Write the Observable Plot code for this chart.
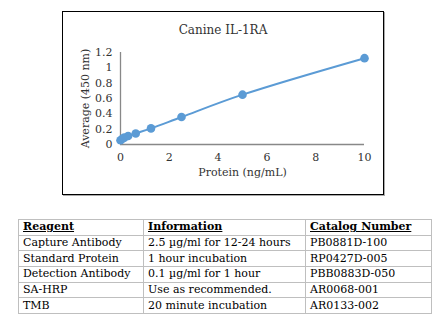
<!DOCTYPE html>
<html>
<head>
<meta charset="utf-8">
<script src="https://cdn.jsdelivr.net/npm/d3@7"></script>
<script src="https://cdn.jsdelivr.net/npm/@observablehq/plot@0.6"></script>
<style>
  html, body { margin: 0; padding: 0; background: #fff; }
  body { width: 446px; height: 326px; position: relative; overflow: hidden; font-family: "DejaVu Serif", serif; }
  #box { position: absolute; left: 62px; top: 11px; width: 320px; height: 182px; border: 1px solid #000; box-shadow: 1px 1px 0 #aaa; background: #fff; }
  #title { position: absolute; left: 0; width: 100%; top: 11px; text-align: center; font-size: 12px; color: #333; }
  #chart { position: absolute; left: 0; top: 0; }
  table { position: absolute; left: 18px; top: 219px; border-collapse: collapse; font-size: 11px; color: #000; }
  td { border: 1px solid #bfbfbf; height: 14.7px; padding: 0 4px; line-height: 14px; white-space: nowrap; }
  th { border: 1px solid #bfbfbf; height: 14.7px; padding: 0 4px; line-height: 14px; text-align: left; text-decoration: underline; font-weight: bold; white-space: nowrap; }
</style>
</head>
<body>
<div id="box"><div id="chart"></div><div id="title">Canine IL-1RA</div></div>
<table id="tbl"></table>
<script>
const protein = [0, 0.078, 0.156, 0.3125, 0.625, 1.25, 2.5, 5, 10];
const average = [0.055, 0.075, 0.09, 0.11, 0.144, 0.21, 0.358, 0.65, 1.126];
const yTicks = [0, 0.2, 0.4, 0.6, 0.8, 1, 1.2];
const xTicks = [0, 2, 4, 6, 8, 10];

const headers = ["Reagent", "Information", "Catalog Number"];
const reagents = ["Capture Antibody", "Standard Protein", "Detection Antibody", "SA-HRP", "TMB"];
const information = ["2.5 µg/ml for 12-24 hours", "1 hour incubation", "0.1 µg/ml for 1 hour", "Use as recommended.", "20 minute incubation"];
const catalog = ["PB0881D-100", "RP0427D-005", "PBB0883D-050", "AR0068-001", "AR0133-002"];

const data = protein.map((x, i) => ({x, y: average[i]}));

const chart = Plot.plot({
  width: 320,
  height: 182,
  marginLeft: 57,
  marginRight: 19,
  marginTop: 40,
  marginBottom: 50,
  style: {fontFamily: "DejaVu Serif, serif", fontSize: "11px", color: "#333", background: "transparent"},
  x: {domain: [0, 10], ticks: xTicks, tickFormat: d => String(d), label: null},
  y: {domain: [0, 1.2], ticks: yTicks, tickFormat: d => String(d), label: null},
  marks: [
    Plot.axisY({ticks: yTicks, tickSize: 0, tickPadding: 8, tickFormat: d => String(d), label: null}),
    Plot.axisX({ticks: xTicks, tickSize: 0, tickPadding: 9, tickFormat: d => String(d), label: null}),
    Plot.ruleX([0], {stroke: "#888", strokeWidth: 1.3}),
    Plot.ruleY([0], {stroke: "#888", strokeWidth: 1.3}),
    Plot.text(["Average (450 nm)"], {frameAnchor: "left", textAnchor: "middle", dx: -35, rotate: -90, fontSize: 11, fill: "#333"}),
    Plot.text(["Protein (ng/mL)"], {frameAnchor: "bottom", dy: 31, fontSize: 11, fill: "#333"}),
    Plot.line(data, {x: "x", y: "y", stroke: "#5b9bd5", strokeWidth: 2, curve: "catmull-rom"}),
    Plot.dot(data, {x: "x", y: "y", fill: "#5b9bd5", r: 4.3})
  ]
});
document.getElementById("chart").appendChild(chart);

const tbl = document.getElementById("tbl");
const colW = [116, 153, 117];
const hr = document.createElement("tr");
headers.forEach((h, i) => { const th = document.createElement("th"); th.textContent = h; th.style.width = colW[i] + "px"; hr.appendChild(th); });
tbl.appendChild(hr);
reagents.forEach((r, i) => {
  const tr = document.createElement("tr");
  [r, information[i], catalog[i]].forEach(v => { const td = document.createElement("td"); td.textContent = v; tr.appendChild(td); });
  tbl.appendChild(tr);
});
</script>
</body>
</html>
